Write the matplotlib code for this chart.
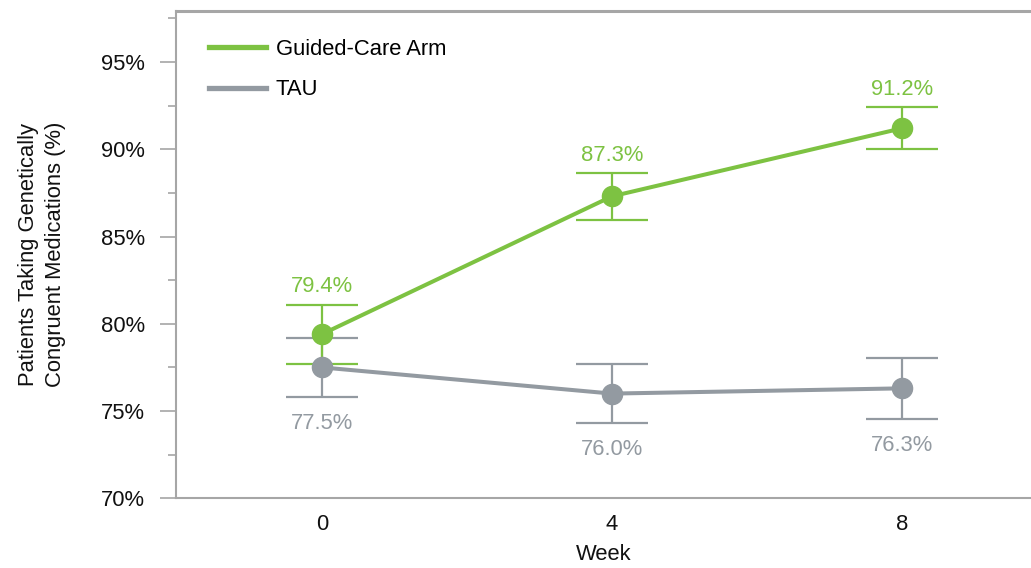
import matplotlib
matplotlib.use("Agg")
import matplotlib.pyplot as plt
from matplotlib.ticker import MultipleLocator, FuncFormatter
from matplotlib.lines import Line2D

plt.rcParams['font.family'] = ['Liberation Sans', 'DejaVu Sans']

weeks = [0, 4, 8]
guided = [79.4, 87.3, 91.2]
guided_err = [1.68, 1.33, 1.2]
tau = [77.5, 76.0, 76.3]
tau_err = [1.7, 1.68, 1.75]
series_names = ["Guided-Care Arm", "TAU"]
xlabel = "Week"
ylabel = "Patients Taking Genetically\nCongruent Medications (%)"

GREEN = "#7DC242"
GRAY = "#939AA1"
SPINE = "#A6A6A6"
FS = 15.8

fig = plt.figure(figsize=(10.31, 5.68), dpi=100)
ax = fig.add_axes([176/1031, 1-498.3/568, 1-176/1031, (498.3-10.5)/568])

for vals, errs, col in [(tau, tau_err, GRAY), (guided, guided_err, GREEN)]:
    ax.errorbar(weeks, vals, yerr=errs, fmt='none', ecolor=col, elinewidth=1.6,
                capsize=26, capthick=1.6, zorder=2)
    ax.plot(weeks, vals, color=col, lw=2.9, marker='o', markersize=14.5,
            solid_capstyle='butt', zorder=3)

for x, v, e in zip(weeks, guided, guided_err):
    ax.annotate(f"{v:.1f}%", (x, v + e), xytext=(0, 5.5), textcoords='offset points',
                ha='center', va='bottom', color=GREEN, fontsize=FS)
for x, v, e in zip(weeks, tau, tau_err):
    ax.annotate(f"{v:.1f}%", (x, v - e), xytext=(0, -11.5), textcoords='offset points',
                ha='center', va='top', color=GRAY, fontsize=FS)

ax.set_xlim(-2.01, 9.78)
ax.set_ylim(70, 97.95)
ax.set_xticks(weeks)
ax.set_xticklabels([str(w) for w in weeks])
ax.yaxis.set_minor_locator(MultipleLocator(2.5))
ax.set_yticks([70, 75, 80, 85, 90, 95])
ax.yaxis.set_major_formatter(FuncFormatter(lambda v, p: f"{v:.0f}%"))

ax.tick_params(axis='x', length=0, pad=11, labelsize=FS, labelcolor='#111111')
ax.tick_params(axis='y', which='major', length=11.5, width=1.2, color=SPINE,
               pad=11, labelsize=FS, labelcolor='#111111')
ax.tick_params(axis='y', which='minor', length=6, width=1.2, color=SPINE)

for s in ['left', 'bottom', 'top']:
    ax.spines[s].set_color(SPINE)
    ax.spines[s].set_linewidth(1.5)
ax.spines['top'].set_linewidth(2.2)
ax.spines['right'].set_visible(False)

ax.set_xlabel(xlabel, fontsize=FS, color='#111111', labelpad=7)
ax.set_ylabel(ylabel, fontsize=FS, color='#111111', labelpad=25, linespacing=1.38)

handles = [Line2D([], [], color=GREEN, lw=3.8), Line2D([], [], color=GRAY, lw=3.8)]
ax.legend(handles, series_names, loc='upper left', bbox_to_anchor=(33/855, 1-28.5/487.8),
          frameon=False, fontsize=FS, handlelength=2.6, handletextpad=0.45,
          borderpad=0, borderaxespad=0, labelspacing=0.88)

fig.savefig("out.png", dpi=100)
